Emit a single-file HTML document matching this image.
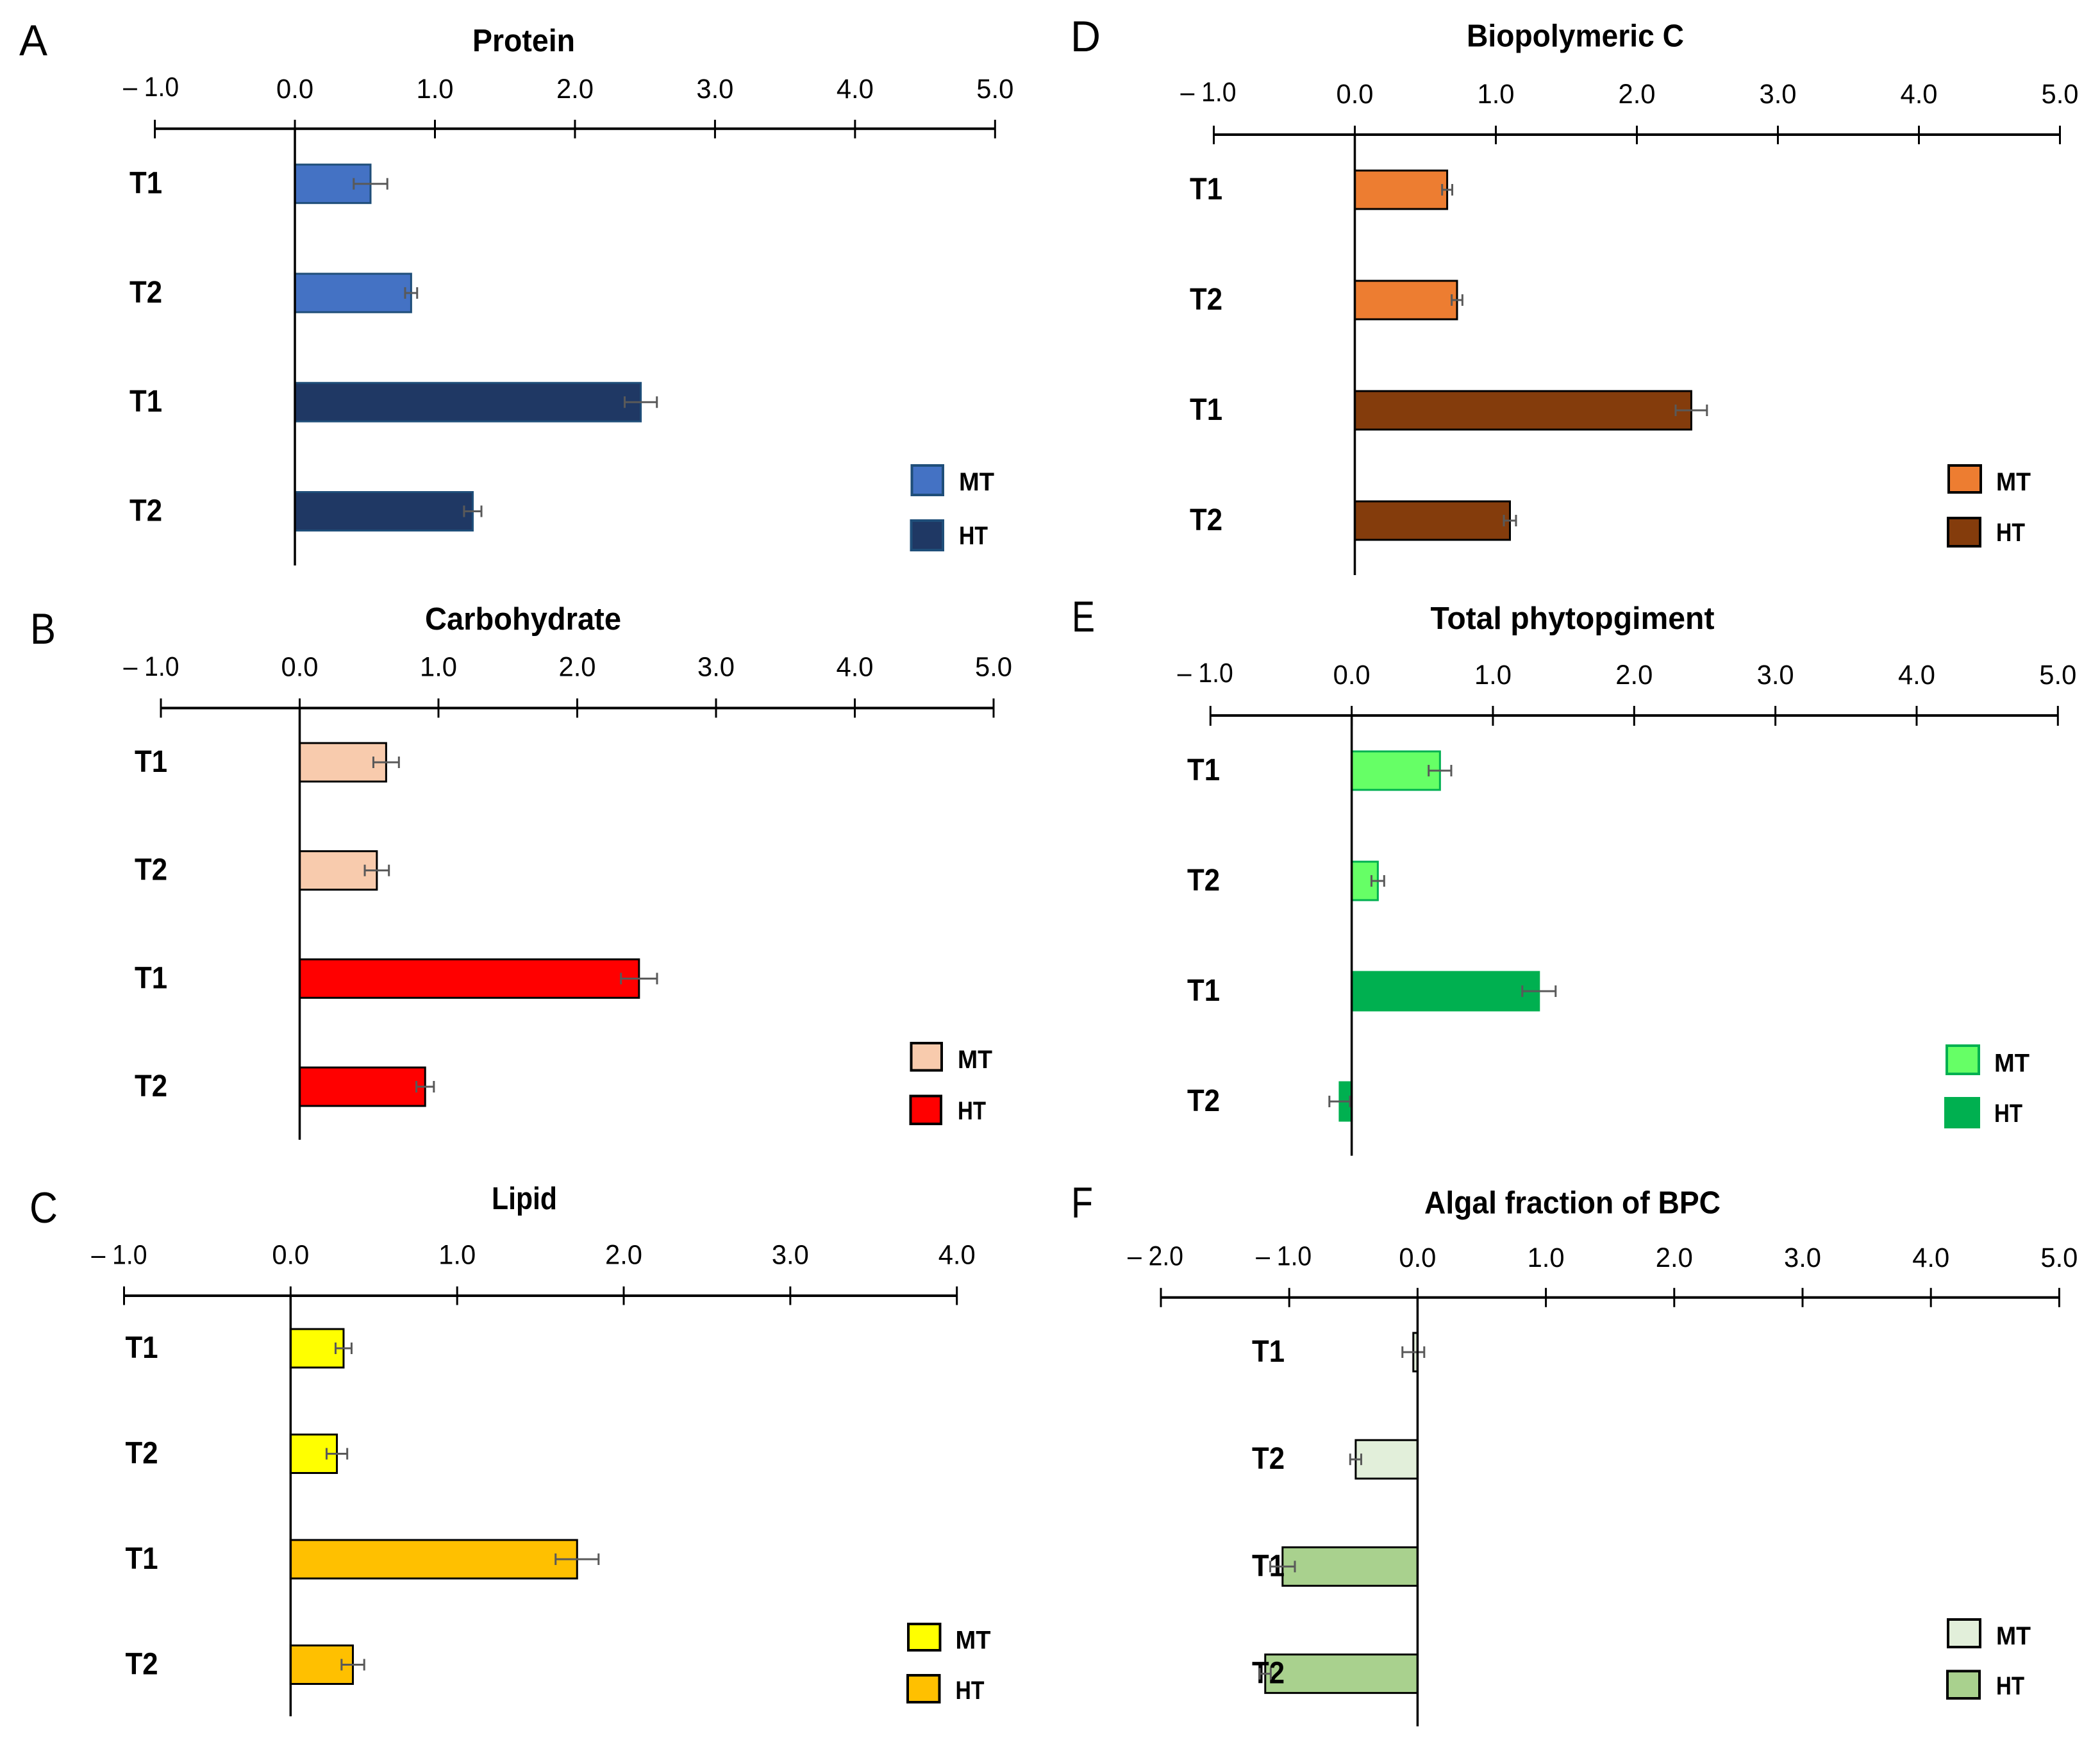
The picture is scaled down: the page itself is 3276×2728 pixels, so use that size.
<!DOCTYPE html>
<html lang="en">
<head>
<meta charset="utf-8">
<title>Six-panel horizontal bar charts</title>
<style>
  html, body { margin: 0; padding: 0; background: #fff; }
  svg { display: block; }
  text { font-family: "Liberation Sans", sans-serif; fill: #000; }
  .title, .leg { font-weight: bold; }
  .title { font-size: 49px; }
  .leg { font-size: 40px; }
  .letter { font-size: 68px; }
  .tick { font-size: 43px; text-anchor: middle; }
  .cat { font-size: 48px; font-weight: bold; }
</style>
</head>
<body>
<svg id="figure" xmlns="http://www.w3.org/2000/svg" width="3276" height="2728" viewBox="0 0 3276 2728">
  <rect x="0" y="0" width="3276" height="2728" fill="#ffffff"/>

  <g id="panel-a">
    <text class="letter" x="30" y="86" textLength="44" lengthAdjust="spacingAndGlyphs">A</text>
    <text class="title" x="737" y="80" textLength="160" lengthAdjust="spacingAndGlyphs">Protein</text>
    <rect x="1422.5" y="726" width="48.5" height="46" fill="#4472C4" stroke="#1F4E79" stroke-width="4"/>
    <text class="leg" x="1496" y="765" textLength="55" lengthAdjust="spacingAndGlyphs">MT</text>
    <rect x="1421.5" y="812" width="49.5" height="46" fill="#1F3864" stroke="#1F4E79" stroke-width="4"/>
    <text class="leg" x="1496" y="849" textLength="45" lengthAdjust="spacingAndGlyphs">HT</text>
  </g>

  <g id="panel-b">
    <text class="letter" x="47" y="1004" textLength="40" lengthAdjust="spacingAndGlyphs">B</text>
    <text class="title" x="663" y="982" textLength="306" lengthAdjust="spacingAndGlyphs">Carbohydrate</text>
    <rect x="1421.5" y="1627" width="47.5" height="42.5" fill="#F8CBAD" stroke="#000" stroke-width="4"/>
    <text class="leg" x="1494" y="1666" textLength="54" lengthAdjust="spacingAndGlyphs">MT</text>
    <rect x="1420.5" y="1709.5" width="47.5" height="43.5" fill="#FF0000" stroke="#000" stroke-width="4"/>
    <text class="leg" x="1494" y="1746" textLength="44" lengthAdjust="spacingAndGlyphs">HT</text>
  </g>

  <g id="panel-c">
    <text class="letter" x="46" y="1907" textLength="44" lengthAdjust="spacingAndGlyphs">C</text>
    <text class="title" x="767" y="1886" textLength="102" lengthAdjust="spacingAndGlyphs">Lipid</text>
    <rect x="1417" y="2533" width="49.5" height="41" fill="#FFFF00" stroke="#000" stroke-width="4"/>
    <text class="leg" x="1490.5" y="2571.5" textLength="55" lengthAdjust="spacingAndGlyphs">MT</text>
    <rect x="1416" y="2613" width="49.5" height="42" fill="#FFC000" stroke="#000" stroke-width="4"/>
    <text class="leg" x="1490.5" y="2650" textLength="45" lengthAdjust="spacingAndGlyphs">HT</text>
  </g>

  <g id="panel-d">
    <text class="letter" x="1670" y="80" textLength="47" lengthAdjust="spacingAndGlyphs">D</text>
    <text class="title" x="2288" y="72.5" textLength="339" lengthAdjust="spacingAndGlyphs">Biopolymeric C</text>
    <rect x="3040" y="726" width="50" height="42" fill="#ED7D31" stroke="#000" stroke-width="4"/>
    <text class="leg" x="3114" y="765" textLength="54" lengthAdjust="spacingAndGlyphs">MT</text>
    <rect x="3039" y="808" width="50" height="44" fill="#843C0C" stroke="#000" stroke-width="4"/>
    <text class="leg" x="3114" y="844" textLength="45" lengthAdjust="spacingAndGlyphs">HT</text>
  </g>

  <g id="panel-e">
    <text class="letter" x="1672" y="985" textLength="36" lengthAdjust="spacingAndGlyphs">E</text>
    <text class="title" x="2231.5" y="981" textLength="443" lengthAdjust="spacingAndGlyphs">Total phytopgiment</text>
    <rect x="3037" y="1631" width="50" height="44" fill="#66FF66" stroke="#00B050" stroke-width="4"/>
    <text class="leg" x="3111" y="1671.5" textLength="55" lengthAdjust="spacingAndGlyphs">MT</text>
    <rect x="3033" y="1711" width="56" height="49" fill="#00B050"/>
    <text class="leg" x="3111" y="1750" textLength="44" lengthAdjust="spacingAndGlyphs">HT</text>
  </g>

  <g id="panel-f">
    <text class="letter" x="1671" y="1899" textLength="34" lengthAdjust="spacingAndGlyphs">F</text>
    <text class="title" x="2222" y="1892.5" textLength="462" lengthAdjust="spacingAndGlyphs">Algal fraction of BPC</text>
    <rect x="3039" y="2526" width="50" height="43" fill="#E2EFDA" stroke="#000" stroke-width="4"/>
    <text class="leg" x="3114" y="2565" textLength="54" lengthAdjust="spacingAndGlyphs">MT</text>
    <rect x="3038" y="2606.5" width="50" height="42.5" fill="#A9D18E" stroke="#000" stroke-width="4"/>
    <text class="leg" x="3114" y="2643" textLength="44" lengthAdjust="spacingAndGlyphs">HT</text>
  </g>
</svg>

<script>
const categories = ['T1', 'T2', 'T1', 'T2'];
const barSeries = ['MT', 'MT', 'HT', 'HT'];

const standardTicks = [-1, 0, 1, 2, 3, 4, 5];
const lipidTicks = [-1, 0, 1, 2, 3, 4];
const algalTicks = [-2, -1, 0, 1, 2, 3, 4, 5];

const proteinValues = [0.54, 0.83, 2.47, 1.27];
const proteinErrors = [0.12, 0.043, 0.115, 0.062];
const carbohydrateValues = [0.623, 0.556, 2.445, 0.904];
const carbohydrateErrors = [0.092, 0.087, 0.13, 0.063];
const lipidValues = [0.318, 0.278, 1.72, 0.374];
const lipidErrors = [0.048, 0.062, 0.129, 0.068];
const biopolymericValues = [0.655, 0.725, 2.386, 1.10];
const biopolymericErrors = [0.036, 0.038, 0.111, 0.043];
const phytopigmentValues = [0.625, 0.185, 1.326, -0.085];
const phytopigmentErrors = [0.08, 0.045, 0.118, 0.073];
const algalValues = [-0.033, -0.482, -1.052, -1.187];
const algalErrors = [0.085, 0.043, 0.096, 0.043];

const panelA = { id: 'panel-a', ticks: standardTicks, values: proteinValues, errors: proteinErrors,
  left: 241.6, right: 1552.3, axisY: 200.8, tickUp: 14, tickDown: 15, axisBottom: 882,
  firstBar: 286.7, lastBar: 797.5, mtFill: '#4472C4', htFill: '#1F3864', mtEdge: '#1F4E79', htEdge: '#1F4E79',
  catX: 202, tickBase: 153, negBase: 150, negDx: -6 };
const panelB = { id: 'panel-b', ticks: standardTicks, values: carbohydrateValues, errors: carbohydrateErrors,
  left: 251, right: 1550, axisY: 1104.4, tickUp: 15, tickDown: 15, axisBottom: 1777.7,
  firstBar: 1189, lastBar: 1695, mtFill: '#F8CBAD', htFill: '#FF0000', mtEdge: '#000', htEdge: '#000',
  catX: 210, tickBase: 1054.5, negBase: 1054, negDx: -15 };
const panelC = { id: 'panel-c', ticks: lipidTicks, values: lipidValues, errors: lipidErrors,
  left: 193.5, right: 1492.7, axisY: 2021, tickUp: 14.5, tickDown: 14.5, axisBottom: 2677,
  firstBar: 2103, lastBar: 2596.5, mtFill: '#FFFF00', htFill: '#FFC000', mtEdge: '#000', htEdge: '#000',
  catX: 195.5, tickBase: 1971.7, negBase: 1971.7, negDx: -7.5 };
const panelD = { id: 'panel-d', ticks: standardTicks, values: biopolymericValues, errors: biopolymericErrors,
  left: 1893.5, right: 3213.5, axisY: 210, tickUp: 14, tickDown: 15, axisBottom: 897,
  firstBar: 296, lastBar: 812, mtFill: '#ED7D31', htFill: '#843C0C', mtEdge: '#000', htEdge: '#000',
  catX: 1856, tickBase: 161, negBase: 158, negDx: -8.5 };
const panelE = { id: 'panel-e', ticks: standardTicks, values: phytopigmentValues, errors: phytopigmentErrors,
  left: 1888.3, right: 3210.3, axisY: 1116, tickUp: 15, tickDown: 16, axisBottom: 1802.6,
  firstBar: 1202, lastBar: 1718, mtFill: '#66FF66', htFill: '#00B050', mtEdge: '#00B050', htEdge: '#00B050',
  catX: 1852, tickBase: 1067, negBase: 1064, negDx: -8 };
const panelF = { id: 'panel-f', ticks: algalTicks, values: algalValues, errors: algalErrors,
  left: 1811, right: 3212.4, axisY: 2023.8, tickUp: 15, tickDown: 15, axisBottom: 2692.6,
  firstBar: 2109, lastBar: 2610.6, mtFill: '#E2EFDA', htFill: '#A9D18E', mtEdge: '#000', htEdge: '#000',
  catX: 1953, tickBase: 1976, negBase: 1973.5, negDx: -8.5 };

const allPanels = [panelA, panelB, panelC, panelD, panelE, panelF];

const SVG_NS = 'http://www.w3.org/2000/svg';
const BAR_HEIGHT = 60;
const CAP_HEIGHT = 18;

function shape(parent, tag, geometry) {
  const node = document.createElementNS(SVG_NS, tag);
  Object.keys(geometry).forEach(function (k) { node.setAttribute(k, geometry[k]); });
  parent.appendChild(node);
  return node;
}

function tickText(v) {
  const s = Math.abs(v).toFixed(1);
  return v < 0 ? '\u2013 ' + s : s;
}

function drawPanel(p) {
  const g = document.getElementById(p.id);
  const tMin = p.ticks[0];
  const tMax = p.ticks[p.ticks.length - 1];
  const xScale = function (v) { return p.left + (v - tMin) / (tMax - tMin) * (p.right - p.left); };
  const yScale = function (i) { return p.firstBar + i / (categories.length - 1) * (p.lastBar - p.firstBar); };
  const zero = xScale(0);

  // bars
  p.values.forEach(function (v, i) {
    const isMT = barSeries[i] === 'MT';
    const x = Math.min(zero, xScale(v));
    const bar = shape(g, 'rect', {
      x: x, y: yScale(i) - BAR_HEIGHT / 2,
      width: Math.abs(xScale(v) - zero), height: BAR_HEIGHT,
      fill: isMT ? p.mtFill : p.htFill,
      stroke: isMT ? p.mtEdge : p.htEdge,
      'stroke-width': 3
    });
    
    
  });

  // category labels
  categories.forEach(function (c, i) {
    const label = shape(g, 'text', {
      x: p.catX, y: yScale(i) + 15, class: 'cat',
      textLength: 51, lengthAdjust: 'spacingAndGlyphs'
    });
    label.textContent = c;
    
    
  });

  // error bars
  p.errors.forEach(function (e, i) {
    const v = p.values[i];
    const y = yScale(i);
    const lo = xScale(v - e);
    const hi = xScale(v + e);
    const eg = shape(g, 'g', { stroke: '#595959', 'stroke-width': 3, fill: 'none' });
    
    
    shape(eg, 'line', { x1: lo, x2: hi, y1: y, y2: y });
    shape(eg, 'line', { x1: lo, x2: lo, y1: y - CAP_HEIGHT / 2, y2: y + CAP_HEIGHT / 2 });
    shape(eg, 'line', { x1: hi, x2: hi, y1: y - CAP_HEIGHT / 2, y2: y + CAP_HEIGHT / 2 });
  });

  // x axis line
  const xAxis = shape(g, 'line', { x1: p.left, x2: p.right, y1: p.axisY, y2: p.axisY, stroke: '#000', 'stroke-width': 4 });
  
  

  // ticks and tick labels
  p.ticks.forEach(function (t) {
    const x = xScale(t);
    const mark = shape(g, 'line', { x1: x, x2: x, y1: p.axisY - p.tickUp, y2: p.axisY + p.tickDown, stroke: '#000', 'stroke-width': 3 });
    
    
    const neg = t < 0;
    const lab = shape(g, 'text', {
      x: neg ? x + p.negDx : x, y: neg ? p.negBase : p.tickBase, class: 'tick',
      textLength: neg ? 87 : 58, lengthAdjust: 'spacingAndGlyphs'
    });
    lab.textContent = tickText(t);
    
    
  });

  // vertical zero line
  const yAxis = shape(g, 'line', { x1: zero, x2: zero, y1: p.axisY, y2: p.axisBottom, stroke: '#000', 'stroke-width': 3.5 });
  
  
}

allPanels.forEach(drawPanel);
</script>
</body>
</html>
